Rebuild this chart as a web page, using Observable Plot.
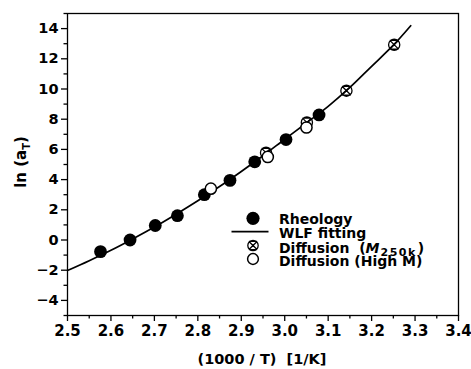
<!DOCTYPE html>
<html><head><meta charset="utf-8">
<script src="https://cdn.jsdelivr.net/npm/d3@7"></script>
<script src="https://cdn.jsdelivr.net/npm/@observablehq/plot@0.6"></script>
<style>body{margin:0;background:#fff} #chart{width:471px;height:369px}</style>
</head><body><div id="chart"></div>
<script>
// Rheology shift factors
const rheologyX = [2.576, 2.644, 2.702, 2.753, 2.815, 2.874, 2.931, 3.003, 3.079];
const rheologyY = [-0.77, 0.0, 0.96, 1.61, 3.0, 3.95, 5.18, 6.65, 8.28];
// Diffusion (M250k)
const m250kX = [2.957, 3.051, 3.142, 3.252];
const m250kY = [5.78, 7.78, 9.89, 12.93];
// Diffusion (High M)
const highMX = [2.830, 2.961, 3.050];
const highMY = [3.40, 5.50, 7.45];
// WLF fitting curve
const wlfX = [2.50, 2.55, 2.60, 2.65, 2.70, 2.75, 2.80, 2.85, 2.90, 2.95, 3.00, 3.05, 3.10, 3.15, 3.20, 3.25, 3.29];
const wlfY = [-2.02, -1.37, -0.68, 0.07, 0.86, 1.71, 2.60, 3.54, 4.54, 5.58, 6.67, 7.75, 8.85, 10.1, 11.5, 12.9, 14.19];
// ticks
const xTicks = [2.5, 2.6, 2.7, 2.8, 2.9, 3.0, 3.1, 3.2, 3.3, 3.4];
const xMinor = [2.55, 2.65, 2.75, 2.85, 2.95, 3.05, 3.15, 3.25, 3.35];
const yTicks = [-4, -2, 0, 2, 4, 6, 8, 10, 12, 14];
const yMinor = [-5, -3, -1, 1, 3, 5, 7, 9, 11, 13, 15];
const legendLabels = ["Rheology", "WLF fitting", "Diffusion", "Diffusion (High M)"];

const zip = (xs, ys) => xs.map((x, i) => ({x, y: ys[i]}));
const rheo = zip(rheologyX, rheologyY);
const m250k = zip(m250kX, m250kY);
const highM = zip(highMX, highMY);
const wlf = zip(wlfX, wlfY);

const crossCircle = {
  draw(ctx, size) {
    const r = Math.sqrt(size / Math.PI);
    ctx.moveTo(r, 0);
    ctx.arc(0, 0, r, 0, 2 * Math.PI);
    const a = r * 0.78;
    ctx.moveTo(-a, -a); ctx.lineTo(a, a);
    ctx.moveTo(a, -a); ctx.lineTo(-a, a);
    ctx.moveTo(-a, -a); ctx.lineTo(a, -a);
    ctx.moveTo(-a, a); ctx.lineTo(a, a);
  }
};

const font = "'DejaVu Sans', Arial, sans-serif";
const plot = Plot.plot({
  width: 471, height: 369,
  marginLeft: 67, marginRight: 13, marginTop: 13, marginBottom: 54,
  style: {fontFamily: font, fontWeight: "bold", background: "#fff", color: "black"},
  x: {domain: [2.5, 3.4], label: null},
  y: {domain: [-5, 15], label: null},
  marks: [
    Plot.axisX(xMinor, {tickSize: 3.5, tickFormat: () => "", strokeWidth: 1.3}),
    Plot.axisX(xTicks, {tickSize: 6, tickPadding: 4, tickFormat: d3.format(".1f"), fontSize: 15, fontWeight: "bold", strokeWidth: 1.3}),
    Plot.axisY(yMinor, {tickSize: 3.5, tickFormat: () => "", strokeWidth: 1.3}),
    Plot.axisY(yTicks, {tickSize: 6, tickPadding: 3, fontSize: 14.5, fontWeight: "bold", strokeWidth: 1.3}),
    Plot.frame({stroke: "black", strokeWidth: 1.3}),
    Plot.line(wlf, {x: "x", y: "y", curve: "catmull-rom", stroke: "black", strokeWidth: 1.7}),
    Plot.dot(rheo, {x: "x", y: "y", r: 6.4, fill: "black"}),
    Plot.dot(m250k, {x: "x", y: "y", r: 5.6, symbol: crossCircle, stroke: "black", strokeWidth: 1.3, fill: "none"}),
    Plot.dot(highM, {x: "x", y: "y", r: 5.6, fill: "white", stroke: "black", strokeWidth: 1.5})
  ]
});

const svg = d3.select(plot);
// y label
const yl = svg.append("text")
  .attr("transform", "translate(26,162) rotate(-90)")
  .attr("text-anchor", "middle")
  .attr("font-family", font).attr("font-weight", "bold").attr("font-size", 15);
yl.append("tspan").text("ln (a");
yl.append("tspan").attr("font-size", 10).attr("dy", 4).text("T");
yl.append("tspan").attr("dy", -4).text(")");
// x label
svg.append("text")
  .attr("x", 262).attr("y", 364)
  .attr("text-anchor", "middle")
  .attr("font-family", font).attr("font-weight", "bold").attr("font-size", 14.5)
  .attr("xml:space", "preserve").style("white-space", "pre")
  .text("(1000 / T)  [1/K]");

// legend
const lg = svg.append("g").attr("font-family", font).attr("font-weight", "bold").attr("font-size", 14).attr("text-anchor", "start");
const tx = 279, base = [223.5, 238.3, 252.5, 266.4], sx = 253;
lg.append("circle").attr("cx", sx).attr("cy", 218.3).attr("r", 6.6).attr("fill", "black");
lg.append("line").attr("x1", 231.5).attr("x2", 268.5).attr("y1", 231.6).attr("y2", 231.6).attr("stroke", "black").attr("stroke-width", 1.7);
lg.append("path").attr("transform", `translate(${sx},245.5)`)
  .attr("d", d3.symbol(crossCircle, Math.PI * 5.2 * 5.2)()).attr("fill", "none").attr("stroke", "black").attr("stroke-width", 1.3);
lg.append("circle").attr("cx", sx).attr("cy", 259).attr("r", 5.4).attr("fill", "white").attr("stroke", "black").attr("stroke-width", 1.5);
lg.append("text").attr("x", tx).attr("y", base[0]).text(legendLabels[0]);
lg.append("text").attr("x", tx).attr("y", base[1]).text(legendLabels[1]);
const t3 = lg.append("text").attr("x", tx).attr("y", base[2]).attr("xml:space", "preserve").style("white-space", "pre");
t3.append("tspan").text(legendLabels[2] + "  (");
t3.append("tspan").attr("font-style", "italic").text("M");
t3.append("tspan").attr("font-size", 11).attr("dy", 3).attr("dx", 1).attr("letter-spacing", 1.5).text("250k");
t3.append("tspan").attr("dy", -3).attr("dx", 1).text(")");
lg.append("text").attr("x", tx).attr("y", base[3]).text(legendLabels[3]);

document.getElementById("chart").appendChild(plot);
</script>
</body></html>
